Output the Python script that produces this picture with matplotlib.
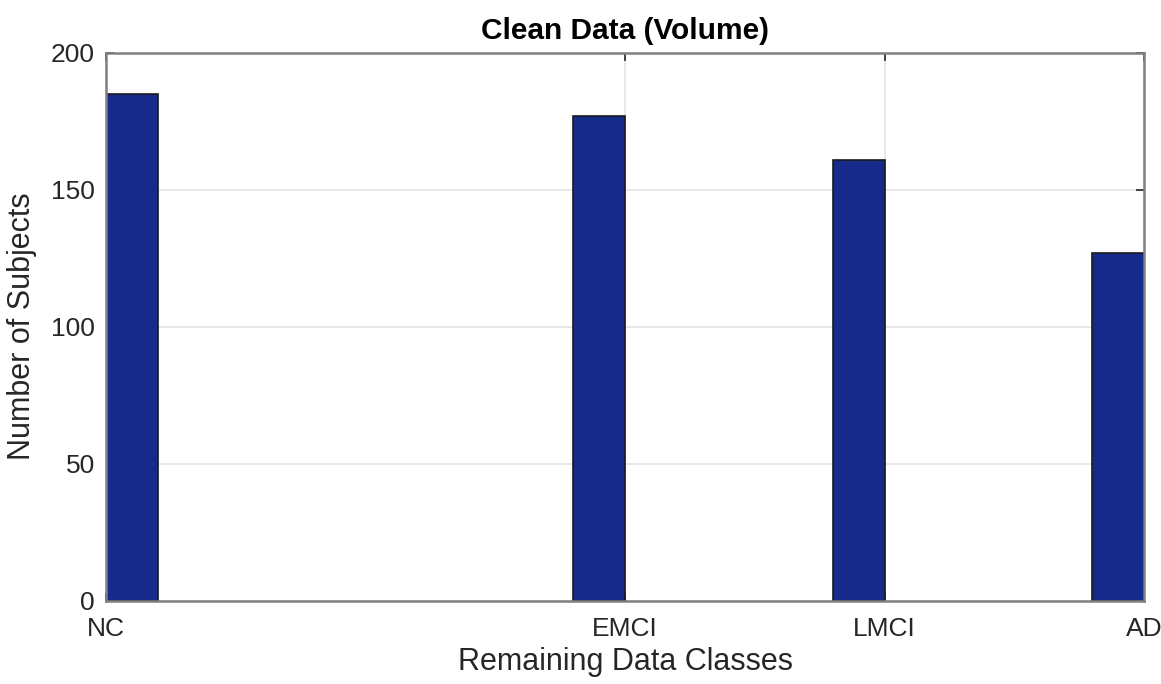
import matplotlib.pyplot as plt
import numpy as np

# data
categories = ["NC", "EMCI", "LMCI", "AD"]
positions = [1, 3, 4, 5]       # class codes on the x axis
counts = [185, 177, 161, 127]

bar_color = "#152a8a"
axis_gray = "#808080"
text_color = "#262626"

plt.rcParams["font.family"] = ["Liberation Sans", "DejaVu Sans"]

fig = plt.figure(figsize=(11.61, 6.84), dpi=100)
ax = fig.add_axes([0.0913, 0.122, 0.8941, 0.801])

# histogram-style bars: first bar starts at its tick, the others end at their tick
bar_w = 0.2
lefts = [p if i == 0 else p - bar_w for i, p in enumerate(positions)]
ax.bar(lefts, counts, width=bar_w, align="edge", color=bar_color,
       edgecolor="#1a1a1a", linewidth=1.2, zorder=3)

ax.set_xlim(1, 5)
ax.set_ylim(0, 200)
ax.set_xticks(positions)
ax.set_xticklabels(categories)
ax.set_yticks([0, 50, 100, 150, 200])

ax.grid(True, color="#e3e3e3", linewidth=1.2, zorder=0)
ax.set_axisbelow(True)

for s in ax.spines.values():
    s.set_color(axis_gray)
    s.set_linewidth(1.8)
    s.set_zorder(4)

ax.tick_params(direction="in", top=True, right=True, length=6, width=1.2,
               color="#262626", labelsize=19, labelcolor=text_color)
ax.tick_params(axis="x", pad=12)
ax.tick_params(axis="y", pad=8)

ax.set_xlabel("Remaining Data Classes", fontsize=22, color=text_color, labelpad=4)
ax.set_ylabel("Number of Subjects", fontsize=22, color=text_color, labelpad=10)
ax.set_title("Clean Data (Volume)", fontsize=21.5, fontweight="bold", pad=10)

fig.savefig("out.png", dpi=100)
